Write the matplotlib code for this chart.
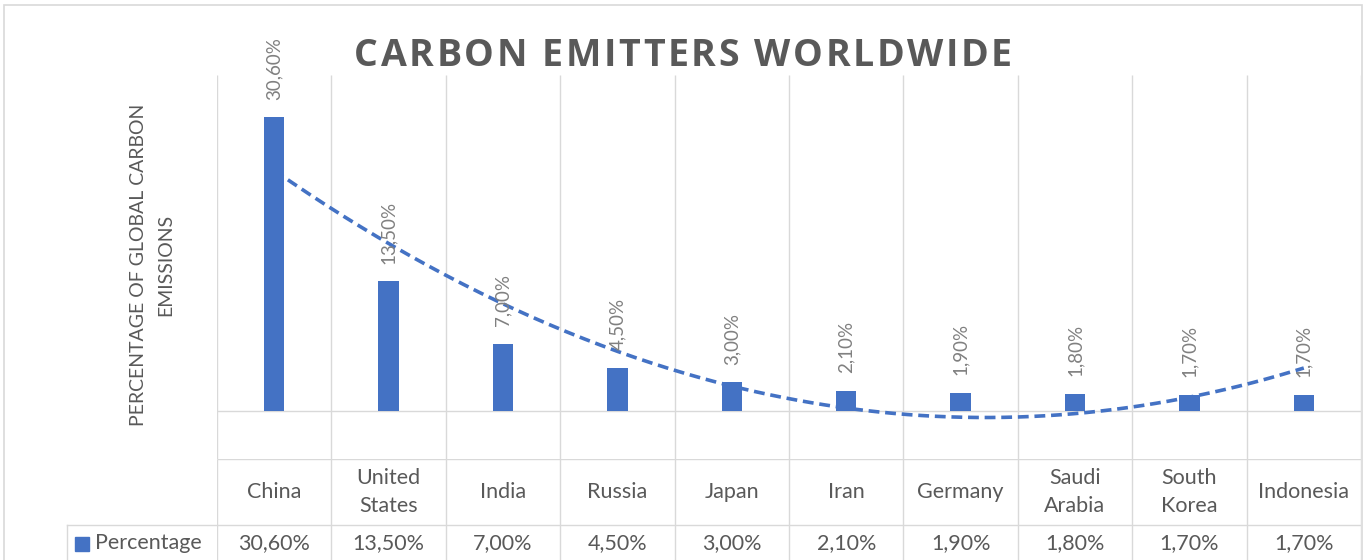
import numpy as np
import matplotlib
matplotlib.use("Agg")
import matplotlib.pyplot as plt
from matplotlib.patches import Rectangle
from matplotlib.lines import Line2D
from matplotlib.font_manager import FontProperties, findfont
from matplotlib.ft2font import FT2Font

# emission shares (percent of global total)
countries = ["China", "United\nStates", "India", "Russia", "Japan", "Iran",
             "Germany", "Saudi\nArabia", "South\nKorea", "Indonesia"]
percentage = [30.6, 13.5, 7.0, 4.5, 3.0, 2.1, 1.9, 1.8, 1.7, 1.7]
series_name = "Percentage"
title = "CARBON EMITTERS WORLDWIDE"
ylabel = "PERCENTAGE OF GLOBAL CARBON\nEMISSIONS"

W, H = 1368, 560
BLUE = "#4472C4"
TXT = "#595959"
LBL = "#808080"
GRID = "#D9D9D9"
plt.rcParams['font.family'] = ['Lato', 'DejaVu Sans']


def fx(px):
    return px / W


def fy(py):
    return 1 - py / H


def pct(v):
    return f"{v:.2f}%".replace(".", ",")


def spaced_text(fig, cx, base_y, s, size, track, **kw):
    # letter-spaced text: place every glyph by its advance plus extra tracking (px)
    prop = FontProperties(family=kw.pop("family"), weight=kw.get("fontweight", "normal"), size=size)
    font = FT2Font(findfont(prop))
    font.set_size(size, fig.dpi)
    adv = [font.load_char(ord(c)).linearHoriAdvance / 65536 for c in s]
    total = sum(adv) + track * (len(s) - 1)
    xpos = cx - total / 2
    for c, a in zip(s, adv):
        if c != " ":
            fig.text(fx(xpos), fy(base_y), c, ha="left", va="baseline",
                     fontsize=size, fontproperties=None, family=prop.get_family(), **kw)
        xpos += a + track


fig = plt.figure(figsize=(W / 100, H / 100), dpi=100)
fig.patch.set_facecolor("white")

x = np.arange(1, len(percentage) + 1)
edges = np.arange(0.5, len(percentage) + 1)

# plot area
ax = fig.add_axes([fx(217), fy(459), fx(1361) - fx(217), (459 - 75) / H])
ax.set_xlim(0.5, len(percentage) + 0.5)
ax.set_ylim(-5, 35)
ax.axis("off")
ax.vlines(edges, -5, 35, color=GRID, lw=1.0, zorder=1)
ax.axhline(0, color=GRID, lw=1.0, zorder=1)

# polynomial (order 2) trendline
coef = np.polyfit(x, percentage, 2)
xs = np.linspace(1, len(percentage), 300)
ax.plot(xs, np.polyval(coef, xs), color=BLUE, lw=2.6, ls=(0, (3.0, 1.6)),
        zorder=2, solid_capstyle="butt")

ax.bar(x, percentage, width=0.18, color=BLUE, zorder=3)
for xi, v in zip(x, percentage):
    ax.annotate(pct(v), (xi, v), xytext=(0, 12.5), textcoords="offset points",
                rotation=90, ha="center", va="bottom", color=LBL,
                fontsize=13.5, zorder=4, annotation_clip=False)

# data table under the plot
tab = fig.add_axes([fx(217), 0, fx(1361) - fx(217), 101 / H])
tab.set_xlim(0.5, len(percentage) + 0.5)
tab.set_ylim(0, 101)
tab.axis("off")
tab.vlines(edges, 0, 101, color=GRID, lw=1.0)
tab.hlines([101, 35], 0.5, len(percentage) + 0.5, color=GRID, lw=1.0)
for xi, name, v in zip(x, countries, percentage):
    tab.text(xi, 68, name, ha="center", va="center", fontsize=15.5,
             color=TXT, linespacing=1.45)
    tab.text(xi, 17, pct(v), ha="center", va="center", fontsize=15.5,
             color=TXT)

# row header cell with legend key
fig.add_artist(Line2D([fx(67), fx(217)], [fy(525), fy(525)], color=GRID, lw=1.0))
fig.add_artist(Line2D([fx(67), fx(67)], [fy(525), 0], color=GRID, lw=1.0))
fig.add_artist(Rectangle((fx(75), fy(551)), 14 / W, 14 / H, color=BLUE,
                         transform=fig.transFigure))
fig.text(fx(95), fy(543), series_name, ha="left", va="center",
         fontsize=15.5, color=TXT)

# chart border
fig.add_artist(Rectangle((fx(4), fy(570)), (1362 - 4) / W, (570 - 5) / H,
                         fill=False, edgecolor=GRID, lw=1.2,
                         transform=fig.transFigure))

spaced_text(fig, 683, 66, title, 27, 2.6, fontweight="bold",
            family="Open Sans", color=TXT)
fig.text(fx(152), fy(265), ylabel, rotation=90, ha="center", va="center",
         multialignment="center", fontsize=14, color=TXT, linespacing=1.75)

fig.savefig("out.png", dpi=100, facecolor="white")
